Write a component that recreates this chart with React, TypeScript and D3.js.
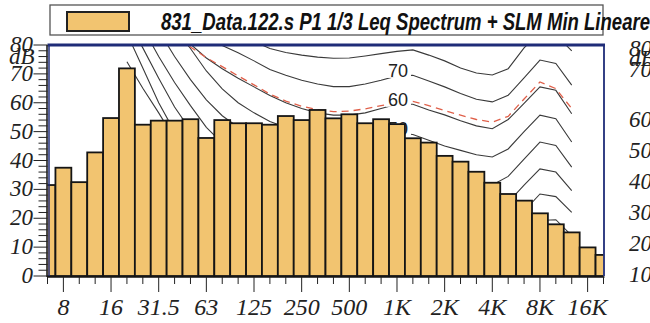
import React from 'react';
import * as d3 from 'd3';

// 1/3-octave bands shown on the x axis
const BANDS = ['6.3','8','10','12.5','16','20','25','31.5','40','50','63','80','100','125','160','200','250','315','400','500','630','800','1K','1.25K','1.6K','2K','2.5K','3.15K','4K','5K','6.3K','8K','10K','12.5K','16K','20K'];
// Leq spectrum (dB)
const LEQ = [31.5,37.5,32.5,42.8,54.7,71.9,52.4,53.8,53.8,54.3,47.8,54.0,52.9,52.9,52.4,55.4,54.0,57.5,54.6,56.0,52.9,54.3,52.6,47.7,46.2,41.6,39.6,36.1,32.3,28.4,26.1,21.7,17.9,15.1,9.9,7.3];
const TICK_LABELS = ['8','16','31.5','63','125','250','500','1K','2K','4K','8K','16K'];
const TICK_BANDS = ['8','16','31.5','63','125','250','500','1K','2K','4K','8K','16K'];

// contour curves (values at 20 Hz .. 12.5 kHz)
const CONTOUR_BANDS = ['20','25','31.5','40','50','63','80','100','125','160','200','250','315','400','500','630','800','1K','1.25K','1.6K','2K','2.5K','3.15K','4K','5K','6.3K','8K','10K','12.5K'];
const C0 = [74.2,65,56.5,47.5,39.5,32,26,21,17,13.5,10.5,8,6,5,4.5,4,4,4,3.5,2,0.5,-1.5,-3,-3.5,-1,4.5,10.5,11,6];
const C10 = [84,72,60,50,42.5,34,28,23.5,20,17,14.5,12.5,11,10,10,10.5,11,11.5,11,9,7.5,6,4.5,4,7.5,13.5,19.2,19.5,14];
const C20 = [89,79,68.5,58.5,50.5,43.5,37.5,33,29.5,26.5,24,22,20.5,19.5,19.5,20,20.5,21,20.5,18.5,17,15.5,14,13,16.5,22.5,28.4,27.5,22];
const C30 = [96,86,76,67,59,51.5,46,42,38.5,35.5,33.5,31.5,30,29,29,29.5,30,30.5,30,28,26.5,25,23.5,22.5,25.5,31.5,37.1,36,29.6];
const C40 = [102,94,85,76,68,61,55.5,51.5,48,45,43,41,39.5,38.5,38.5,39,40,40,39.5,37.5,35.8,34,32.5,31.5,34.5,40.5,46.4,45.2,37.7];
const C50 = [108,100,92,85.5,78.8,71,64.8,60,56.5,53.5,51.5,49.5,48,47,47,47.5,48.5,49.5,49,47,45,43.5,42,41.2,44,50,55.7,54.5,46.4];
const C60 = [112,103,95,87,80.3,75.5,71.8,68.5,65.5,62.5,60,58,56.5,55.7,55.7,56.5,58,59.5,59.5,57.5,55.8,53.8,52,51,54.2,59.8,65.5,64.3,56.2];
const C70 = [115,109,103,97,91,84.5,79.8,77.3,74.5,71.5,69.5,67.8,66.5,65.6,65.6,66.5,67.8,69.3,69.5,67.5,65.5,63.2,61.2,60.3,62.6,68.6,74.8,73.6,66.1];
const C80 = [120,114,108,103,98,93,88.5,84.5,81.2,78.8,77.4,76.5,75.8,75.4,75.5,76.2,77,77.8,78.3,76.5,74.5,72,70.3,69.6,71.8,79,84.5,83.5,78];
const SLM_MIN = [110,102,94,86,79.3,75.6,72.5,69.3,66.2,63,60.6,58.8,57.6,56.9,57.1,57.9,59,60.1,60.5,59,57.3,55.7,54.2,53.3,55.3,61.3,67.2,64.9,58];
const SOLID_CURVES = [C0, C10, C20, C30, C40, C50, C60, C70, C80];
const CURVE_LABELS = ['70', '60', '50'];
const CURVE_LABEL_LEVELS = [70, 60, 50];

const Y_MAJOR = [0,10,20,30,40,50,60,70,80];
const RIGHT_LABELS = ['80','70','60','50','40','30','20','10'];
const RIGHT_VALUES = [80,70,60,50,40,30,20,10];

const LEGEND_TEXT = '831_Data.122.s P1 1/3 Leq Spectrum + SLM Min Lineare';

export default function App() {
  const W = 650, H = 323;
  const left = 47.5, right = 603.5, top = 45, bottom = 276;
  const x = d3.scalePoint<string>().domain(BANDS).range([left, right]);
  const step = x.step();
  const y = d3.scaleLinear().domain([0, 80]).range([bottom, top]);
  const yRight = d3.scaleLinear().domain([10, 60, 70, 80]).range([282, 127, 77, 56]);
  const line = d3.line<number>()
    .x((_, i) => x(CONTOUR_BANDS[i]) as number)
    .y(d => y(d));
  const minorY = d3.range(0, 81, 2);
  const navy = '#1f2c78';
  const barFill = '#f2c470';
  const serif = '"Liberation Serif", "DejaVu Serif", serif';
  const sans = '"Liberation Sans", Arial, sans-serif';

  return (
    <svg width={W} height={H} style={{ position: 'absolute', left: 0, top: 0, background: '#fff' }}>
      <defs>
        <clipPath id="plot">
          <rect x={left} y={top} width={right - left} height={bottom - top + 1} />
        </clipPath>
      </defs>

      {/* legend */}
      <rect x={50} y={5} width={553} height={30} fill="#fff" stroke="#555" strokeWidth={1.3} />
      <rect x={67} y={12} width={62} height={19} fill={barFill} stroke="#222" strokeWidth={2} />
      <text x={161} y={30} fontFamily={sans} fontWeight="bold" fontStyle="italic" fontSize={23}
        textLength={489} lengthAdjust="spacingAndGlyphs" fill="#111">{LEGEND_TEXT}</text>

      <g clipPath="url(#plot)">
        {SOLID_CURVES.map((c, k) => (
          <path key={k} d={line(c) || ''} fill="none" stroke="#3a3a3a" strokeWidth={1.1} />
        ))}
        <path d={line(SLM_MIN) || ''} fill="none" stroke="#e0604a" strokeWidth={1.3} strokeDasharray="7 5" />
        {CURVE_LABELS.map((t, k) => (
          <g key={t}>
            <rect x={(x('1K') as number) - 11} y={y(CURVE_LABEL_LEVELS[k]) - 12} width={25} height={16} fill="#fff" />
            <text x={(x('1K') as number) - 9} y={y(CURVE_LABEL_LEVELS[k]) + 3} fontFamily={sans} fontSize={18} fill="#222">{t}</text>
          </g>
        ))}
        {LEQ.map((v, i) => (
          <rect key={i} x={(x(BANDS[i]) as number) - step / 2} y={y(v)} width={step} height={bottom - y(v)}
            fill={barFill} stroke="#151515" strokeWidth={1.8} />
        ))}
      </g>

      {/* frame */}
      <line x1={left + 1.5} x2={left + 1.5} y1={top} y2={bottom} stroke={navy} strokeWidth={1.5} />
      <line x1={right + 0.5} x2={right + 0.5} y1={top} y2={bottom} stroke={navy} strokeWidth={1.8} />
      <line x1={left} x2={right + 1.5} y1={top} y2={top} stroke={navy} strokeWidth={3} />

      {/* y axis */}
      <line x1={left - 0.5} x2={left - 0.5} y1={top} y2={bottom + 1} stroke="#111" strokeWidth={1.5} />
      {minorY.map(v => (
        <line key={'m' + v} x1={left - (v % 10 === 0 ? 14 : 9)} x2={left} y1={y(v)} y2={y(v)} stroke="#222" strokeWidth={1} />
      ))}
      {Y_MAJOR.map(v => (
        <text key={'y' + v} x={33} y={y(v) + 7} textAnchor="end" fontFamily={serif} fontStyle="italic" fontSize={23} fill="#222">{v}</text>
      ))}
      <text x={9} y={64} fontFamily={serif} fontStyle="italic" fontSize={23} fill="#222">dB</text>

      {/* x axis */}
      <line x1={left - 0.5} x2={right + 1} y1={bottom + 1} y2={bottom + 1} stroke="#111" strokeWidth={1.5} />
      {BANDS.map(b => {
        const major = TICK_BANDS.includes(b);
        return <line key={'t' + b} x1={x(b)} x2={x(b)} y1={bottom + 1} y2={bottom + (major ? 16 : 8)} stroke="#222" strokeWidth={1} />;
      })}
      {TICK_LABELS.map((t, i) => (
        <text key={'xl' + t} x={x(TICK_BANDS[i])} y={315} textAnchor="middle" fontFamily={serif} fontStyle="italic" fontSize={24} fill="#222">{t}</text>
      ))}

      {/* neighbouring axis, cut off */}
      {RIGHT_LABELS.map((t, i) => (
        <text key={'r' + t} x={629} y={yRight(RIGHT_VALUES[i])} fontFamily={serif} fontStyle="italic" fontSize={23} fill="#222">{t}</text>
      ))}
      <text x={629} y={66} fontFamily={serif} fontStyle="italic" fontSize={23} fill="#222">dB</text>
    </svg>
  );
}
